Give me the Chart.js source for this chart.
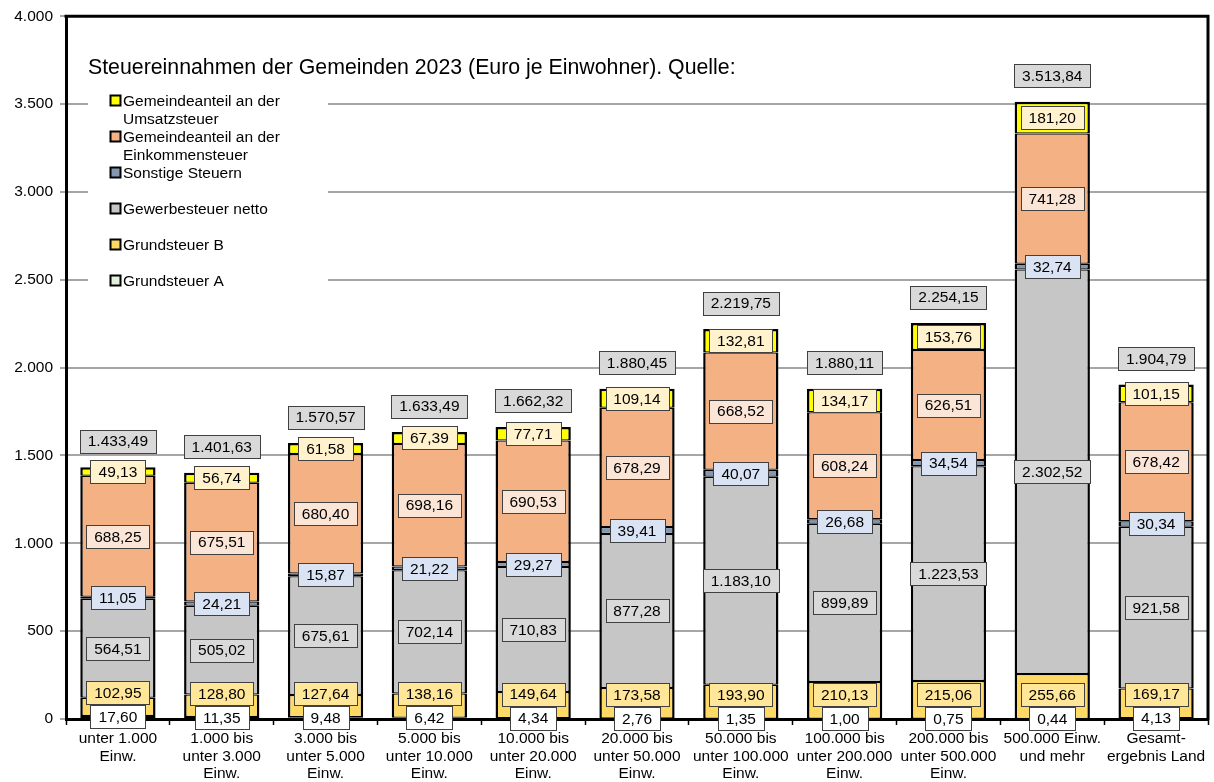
<!DOCTYPE html>
<html><head><meta charset="utf-8">
<script src="https://cdn.jsdelivr.net/npm/chart.js@4/dist/chart.umd.min.js"></script>
<style>html,body{margin:0;padding:0;background:#fff;}canvas{display:block;}</style>
</head><body>
<canvas id="c" width="1214" height="782"></canvas>
<script>
const categories = [
  ['unter 1.000','Einw.'],
  ['1.000 bis','unter 3.000','Einw.'],
  ['3.000 bis','unter 5.000','Einw.'],
  ['5.000 bis','unter 10.000','Einw.'],
  ['10.000 bis','unter 20.000','Einw.'],
  ['20.000 bis','unter 50.000','Einw.'],
  ['50.000 bis','unter 100.000','Einw.'],
  ['100.000 bis','unter 200.000','Einw.'],
  ['200.000 bis','unter 500.000','Einw.'],
  ['500.000 Einw.','und mehr'],
  ['Gesamt-','ergebnis Land']
];
const seriesNames = ['Grundsteuer A','Grundsteuer B','Gewerbesteuer netto','Sonstige Steuern','Gemeindeanteil an der Einkommensteuer','Gemeindeanteil an der Umsatzsteuer'];
const grundsteuerA = [17.60, 11.35, 9.48, 6.42, 4.34, 2.76, 1.35, 1.00, 0.75, 0.44, 4.13];
const grundsteuerB = [102.95, 128.80, 127.64, 138.16, 149.64, 173.58, 193.90, 210.13, 215.06, 255.66, 169.17];
const gewerbesteuer = [564.51, 505.02, 675.61, 702.14, 710.83, 877.28, 1183.10, 899.89, 1223.53, 2302.52, 921.58];
const sonstigeSteuern = [11.05, 24.21, 15.87, 21.22, 29.27, 39.41, 40.07, 26.68, 34.54, 32.74, 30.34];
const einkommensteuer = [688.25, 675.51, 680.40, 698.16, 690.53, 678.29, 668.52, 608.24, 626.51, 741.28, 678.42];
const umsatzsteuer = [49.13, 56.74, 61.58, 67.39, 77.71, 109.14, 132.81, 134.17, 153.76, 181.20, 101.15];
const totals = [1433.49, 1401.63, 1570.57, 1633.49, 1662.32, 1880.45, 2219.75, 1880.11, 2254.15, 3513.84, 1904.79];
const yTickValues = [0, 500, 1000, 1500, 2000, 2500, 3000, 3500, 4000];
const titleText = 'Steuereinnahmen der Gemeinden 2023 (Euro je Einwohner). Quelle:';

const barColors = ['#e2efda', '#ffd966', '#c6c6c6', '#8497b0', '#f4b183', '#ffff00'];
const labelBgs = ['#ffffff', '#ffe699', '#d9d9d9', '#dae3f3', '#fbe5d6', '#fff2cc'];
const totalBg = '#d9d9d9';
const FONT = '"Liberation Sans", Arial, sans-serif';
const LBL_FONT_SIZE = 15.5;

function groupInt(s){ return s.replace(/\B(?=(\d{3})+(?!\d))/g, '.'); }
function fmt(v){ const p = v.toFixed(2).split('.'); return groupInt(p[0]) + ',' + p[1]; }

function drawBox(ctx, text, x, y, bg){
  ctx.font = LBL_FONT_SIZE + 'px ' + FONT;
  const w = Math.round(ctx.measureText(text).width + 16), h = 23;
  const l = Math.round(x - w/2) + 0.5, t = Math.round(y - h/2) + 0.5;
  ctx.fillStyle = bg; ctx.fillRect(l, t, w, h);
  ctx.strokeStyle = '#404040'; ctx.lineWidth = 1; ctx.strokeRect(l, t, w, h);
  ctx.fillStyle = '#000'; ctx.textAlign = 'center'; ctx.textBaseline = 'middle';
  ctx.fillText(text, x, y + 1);
}

function wrap(ctx, text, maxW){
  const words = text.split(' '); const lines = []; let cur = '';
  words.forEach(w => {
    const test = cur ? cur + ' ' + w : w;
    if (ctx.measureText(test).width > maxW && cur){ lines.push(cur); cur = w; } else cur = test;
  });
  if (cur) lines.push(cur);
  return lines;
}

const legendPlugin = {
  id: 'inlineLegend',
  beforeDatasetsDraw(chart){
    const ctx = chart.ctx; const ca = chart.chartArea;
    ctx.save();
    ctx.font = '21.3px ' + FONT; ctx.fillStyle = '#000'; ctx.textAlign = 'left'; ctx.textBaseline = 'middle';
    ctx.fillText(titleText, ca.left + 22, 68.5);
    ctx.fillStyle = '#fff';
    ctx.fillRect(ca.left + 22, 90, 240, 202);
    ctx.font = LBL_FONT_SIZE + 'px ' + FONT;
    const ds = chart.data.datasets;
    let k = 0;
    for (let i = ds.length - 1; i >= 0; i--, k++){
      const y = 100.5 + k * 36;
      ctx.fillStyle = ds[i].backgroundColor;
      ctx.fillRect(110.5, y - 5, 10, 10);
      ctx.strokeStyle = '#000'; ctx.lineWidth = 2;
      ctx.strokeRect(110.5, y - 5, 10, 10);
      ctx.fillStyle = '#000'; ctx.textAlign = 'left'; ctx.textBaseline = 'middle';
      const lines = wrap(ctx, ds[i].label, 195);
      lines.forEach((ln, j) => ctx.fillText(ln, 123, y + 1 + j * 18));
    }
    ctx.restore();
  },
  afterDraw(chart){
    const ctx = chart.ctx; const ca = chart.chartArea;
    ctx.save();
    ctx.strokeStyle = '#000'; ctx.lineWidth = 3;
    ctx.beginPath();
    ctx.moveTo(ca.left - 1.5, ca.top); ctx.lineTo(ca.right, ca.top); ctx.lineTo(ca.right, ca.bottom + 1.5);
    ctx.stroke();
    const ds = chart.data.datasets; const yScale = chart.scales.y;
    for (let i = 0; i < categories.length; i++){
      let prevY = Infinity; let x = 0;
      for (let di = 0; di < ds.length; di++){
        const el = chart.getDatasetMeta(di).data[i];
        x = el.x;
        const center = (el.y + el.base) / 2;
        const y = Math.min(center, prevY - 24);
        prevY = y;
        drawBox(ctx, fmt(ds[di].data[i]), x, y, labelBgs[di]);
      }
      const ty = Math.min(yScale.getPixelForValue(totals[i]) - 26, prevY - 30);
      drawBox(ctx, fmt(totals[i]), x, ty, totalBg);
    }
    ctx.restore();
  }
};

const seriesData = [grundsteuerA, grundsteuerB, gewerbesteuer, sonstigeSteuern, einkommensteuer, umsatzsteuer];
const datasets = seriesData.map((d, i) => ({
  label: seriesNames[i],
  data: d,
  backgroundColor: barColors[i],
  borderColor: '#000',
  borderWidth: i === seriesData.length - 1 ? {left: 2.5, right: 2.5, top: 2.5, bottom: 1.25} : {left: 2.5, right: 2.5, top: 1.25, bottom: 1.25},
  borderSkipped: false,
  barPercentage: 0.725,
  categoryPercentage: 1.0
}));

new Chart(document.getElementById('c'), {
  type: 'bar',
  data: { labels: categories, datasets },
  options: {
    responsive: false,
    animation: false,
    layout: { padding: { top: 16, right: 6, bottom: 0, left: 0 } },
    plugins: { legend: { display: false }, title: { display: false }, tooltip: { enabled: false } },
    scales: {
      x: {
        stacked: true,
        afterFit(s){ s.height = 63; },
        grid: { display: true, drawOnChartArea: false, drawTicks: true, tickLength: 6, tickColor: '#000', tickWidth: 1.5, offset: true },
        border: { display: true, color: '#000', width: 3, z: 1 },
        ticks: { color: '#000', font: { family: FONT, size: LBL_FONT_SIZE, lineHeight: 1.13 }, padding: 5, maxRotation: 0, autoSkip: false }
      },
      y: {
        stacked: true, min: 0, max: 4000,
        afterFit(s){ s.width = 66; },
        afterBuildTicks(s){ s.ticks = yTickValues.map(v => ({ value: v })); },
        grid: { color: '#a6a6a6', lineWidth: 2, tickLength: 6, tickColor: '#a6a6a6' },
        border: { display: true, color: '#000', width: 3, z: 1 },
        ticks: { color: '#000', font: { family: FONT, size: LBL_FONT_SIZE }, padding: 7, callback: v => groupInt(String(v)) }
      }
    }
  },
  plugins: [legendPlugin]
});
</script>
</body></html>
